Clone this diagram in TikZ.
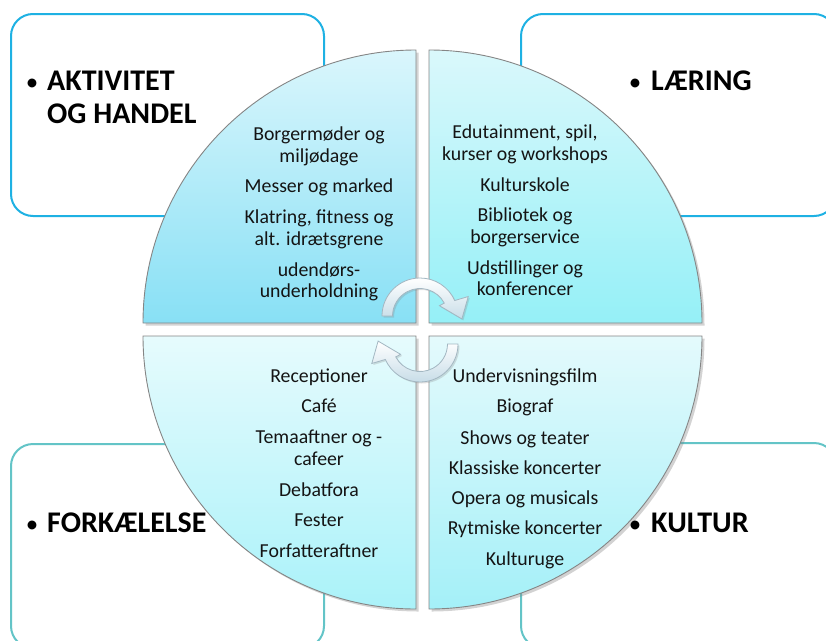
\documentclass[tikz,border=0pt]{standalone}
\usepackage{fontspec}
\setmainfont{Carlito}
\usetikzlibrary{shadows,calc}
\definecolor{boxblue}{HTML}{1EB1E3}
\definecolor{boxteal}{HTML}{63C4C7}
\definecolor{qline}{HTML}{858585}
\definecolor{tlTop}{HTML}{DAF6FC}
\definecolor{tlBot}{HTML}{88E0F5}
\definecolor{trTop}{HTML}{DAF8FB}
\definecolor{trBot}{HTML}{95F0F7}
\definecolor{blTop}{HTML}{E6FBFD}
\definecolor{blBot}{HTML}{AAF2F9}
\definecolor{brTop}{HTML}{E4FAFC}
\definecolor{brBot}{HTML}{A4F0F8}
\definecolor{arrline}{HTML}{A3B7C2}
\definecolor{arrbot}{HTML}{C8DDE8}
\definecolor{txt}{HTML}{141414}
\tikzset{
  item/.style={anchor=base, inner sep=0pt, text=txt, font=\fontsize{19.8}{22}\selectfont},
  title/.style={anchor=base west, inner sep=0pt, text=black, font=\fontsize{30}{33}\selectfont\bfseries},
  bul/.style={anchor=base, inner sep=0pt, text=black, font=\fontsize{25}{30}\selectfont},
  corner box/.style={line width=2pt, fill=white, rounded corners=22pt},
  quad/.style={draw=qline, line width=0.9pt, drop shadow={opacity=0.35, shadow xshift=2.5pt, shadow yshift=-2.5pt}},
  arrowshape/.style={draw=arrline, line width=0.8pt, top color=white, bottom color=arrbot,
    drop shadow={opacity=0.25, shadow xshift=1.5pt, shadow yshift=-1.5pt}}
}
\begin{document}
\begin{tikzpicture}[x=1pt,y=-1pt]
\useasboundingbox (0,0) rectangle (826,640);
\clip (0,0) rectangle (826,640);
% corner boxes
\draw[corner box, draw=boxblue] (11,14) rectangle (324,216);
\draw[corner box, draw=boxblue] (521,14) rectangle (836,216);
\draw[corner box, draw=boxteal] (11,444) rectangle (324,648);
\draw[corner box, draw=boxteal] (521,443) rectangle (836,648);
% quadrants
\path[quad, top color=tlTop, bottom color=tlBot]
  (416,323) -- (143,323) arc[start angle=180, end angle=270, radius=273] -- cycle;
\path[quad, top color=trTop, bottom color=trBot]
  (429,323) -- (429,50) arc[start angle=270, end angle=360, radius=273] -- cycle;
\path[quad, top color=brTop, bottom color=brBot]
  (429,336) -- (702,336) arc[start angle=0, end angle=90, radius=273] -- cycle;
\path[quad, top color=blTop, bottom color=blBot]
  (416,336) -- (416,609) arc[start angle=90, end angle=180, radius=273] -- cycle;
% circular arrows
\coordinate (U) at (420,316);
\coordinate (L) at (420,344);
\path[arrowshape]
  ($(U)+(180:38)$) arc[start angle=180, end angle=336, radius=38]
  -- ($(U)+(338:52)$) -- ($(U)+(4:42)$) -- ($(U)+(332:22)$)
  -- ($(U)+(332:27.5)$) arc[start angle=332, end angle=180, radius=27.5] -- cycle;
\path[arrowshape]
  ($(L)+(0:38)$) arc[start angle=0, end angle=156, radius=38]
  -- ($(L)+(158:52)$) -- ($(L)+(184:42)$) -- ($(L)+(152:22)$)
  -- ($(L)+(152:27.5)$) arc[start angle=152, end angle=0, radius=27.5] -- cycle;
% titles
\node[bul] (b1) at (32,90) {•};
\node[title] (t1a) at (47,90) {AKTIVITET};
\node[title] (t1b) at (47,123) {OG HANDEL};
\node[bul] (b2) at (635,90) {•};
\node[title] (t2) at (651,90) {LÆRING};
\node[bul] (b3) at (32,532) {•};
\node[title] (t3) at (47,532) {FORKÆLELSE};
\node[bul] (b4) at (635,532) {•};
\node[title] (t4) at (651,532) {KULTUR};
% quadrant texts
\foreach \y/\t [count=\i] in {140/Borgermøder og, 162/miljødage, 192/Messer og marked,
  223/{Klatring, fitness og}, 245/alt. idrætsgrene, 276/udendørs-, 297/underholdning}
  \node[item] (tl\i) at (319,\y) {\t};
\foreach \y/\t [count=\i] in {138/{Edutainment, spil,}, 160/kurser og workshops, 191/Kulturskole,
  221/Bibliotek og, 243/borgerservice, 274/Udstillinger og, 295/konferencer}
  \node[item] (tr\i) at (525,\y) {\t};
\foreach \y/\t [count=\i] in {382/Receptioner, 412/Café, 443/Temaaftner og -, 465/cafeer,
  496/Debatfora, 526/Fester, 557/Forfatteraftner}
  \node[item] (bl\i) at (319,\y) {\t};
\foreach \y/\t [count=\i] in {382/Undervisningsfilm, 412/Biograf, 444/Shows og teater,
  474/Klassiske koncerter, 504/Opera og musicals, 534/Rytmiske koncerter, 565/Kulturuge}
  \node[item] (br\i) at (525,\y) {\t};
\end{tikzpicture}
\end{document}
